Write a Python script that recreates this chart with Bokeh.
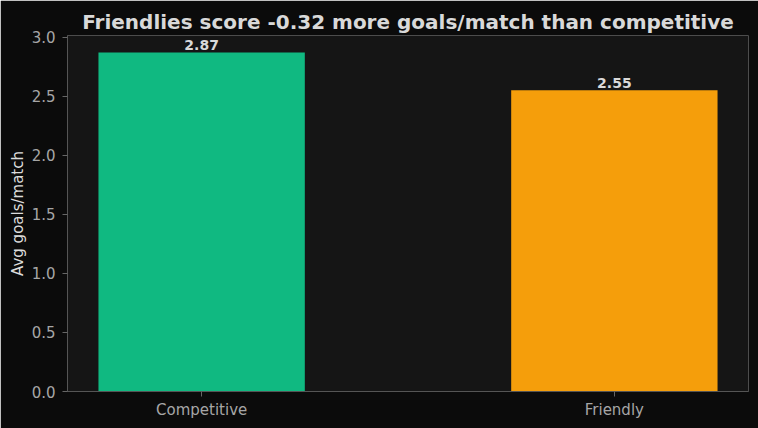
from bokeh.plotting import figure
from bokeh.models import Range1d, ColumnDataSource, SingleIntervalTicker, FixedTicker, NumeralTickFormatter, LabelSet
from bokeh.core.properties import value
from bokeh.embed import file_html
from bokeh.resources import INLINE

categories = ["Competitive", "Friendly"]
goals_per_match = [2.87, 2.55]
bar_colors = ["#10b981", "#f59e0b"]
value_labels = ["2.87", "2.55"]
title_text = "Friendlies score -0.32 more goals/match than competitive"
y_label = "Avg goals/match"

positions = [i + 0.5 for i in range(len(categories))]
src = ColumnDataSource(dict(x=positions, val=goals_per_match, color=bar_colors, lab=value_labels))

FONT = "DejaVu Sans"
p = figure(
    width=758, height=428,
    x_range=Range1d(0.175, len(categories) - 0.175),
    y_range=Range1d(0, 3.013),
    output_backend="svg", toolbar_location=None,
    min_border_left=67, min_border_right=10, min_border_top=35, min_border_bottom=37,
)
p.background_fill_color = "#151515"
p.border_fill_color = "#0b0b0b"
p.outline_line_color = None
p.grid.grid_line_color = None

p.title.text = title_text
p.title.align = "center"
p.title.text_font = FONT
p.title.text_font_size = "20px"
p.title.text_font_style = "bold"
p.title.text_color = "#d9d9d9"
p.title.standoff = 4
p.title.offset = 0

p.vbar(x="x", top="val", width=0.5, fill_color="color", source=src, line_color=None)

labels = LabelSet(x="x", y="val", text="lab", source=src, text_align="center", text_baseline="bottom",
                  text_font=value(FONT), text_font_size=value("14px"), text_font_style="bold",
                  text_color="#d9d9d9", y_offset=2)
p.add_layout(labels)

for ax in (p.xaxis[0], p.yaxis[0]):
    ax.axis_line_color = "#555555"
    ax.major_tick_line_color = "#666666"
    ax.major_tick_out = 5
    ax.major_tick_in = 0
    ax.minor_tick_line_color = None
    ax.major_label_text_font = FONT
    ax.major_label_text_font_size = "15px"
    ax.major_label_text_color = "#a6a6a6"

p.xaxis.ticker = FixedTicker(ticks=positions)
p.xaxis.major_label_overrides = {pos: cat for pos, cat in zip(positions, categories)}
p.xaxis.major_label_standoff = 4

p.yaxis.ticker = SingleIntervalTicker(interval=0.5)
p.yaxis.formatter = NumeralTickFormatter(format="0.0")
p.yaxis.major_label_standoff = 7
p.yaxis.axis_label = y_label
p.yaxis.axis_label_text_font = FONT
p.yaxis.axis_label_text_font_size = "15px"
p.yaxis.axis_label_text_font_style = "normal"
p.yaxis.axis_label_text_color = "#dcdcdc"
p.yaxis.axis_label_standoff = 2

open("out.html", "w").write(file_html(p, INLINE))
